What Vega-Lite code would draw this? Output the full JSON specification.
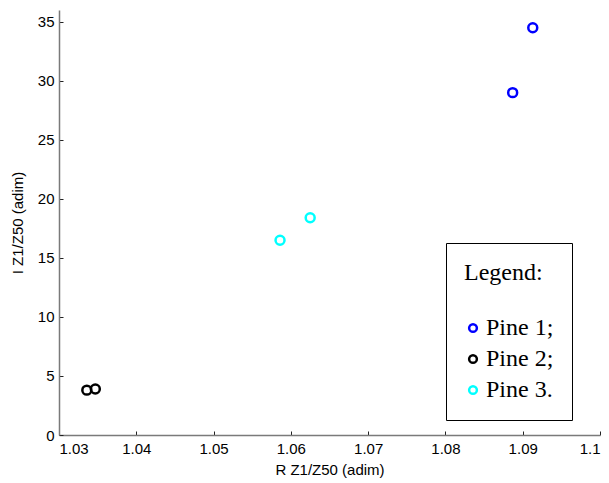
{
  "$schema": "https://vega.github.io/schema/vega-lite/v6.json",
  "width": 541,
  "height": 425,
  "autosize": {"type": "none"},
  "padding": {"left": 59, "top": 10, "right": 9, "bottom": 48},
  "background": "white",
  "config": {
    "view": {"stroke": null},
    "font": "Liberation Sans",
    "axis": {
      "grid": false,
      "domainColor": "#7a7a7a",
      "domainWidth": 1.5,
      "tickColor": "#222222",
      "tickSize": -4,
      "tickWidth": 1,
      "labelFont": "Liberation Sans",
      "labelFontSize": 15,
      "labelColor": "#000000",
      "titleFont": "Liberation Sans",
      "titleFontSize": 15,
      "titleFontWeight": "normal",
      "titleColor": "#000000"
    }
  },
  "data": {
    "values": [
      {"r": 1.0913, "i": 34.5, "series": "Pine 1;"},
      {"r": 1.0887, "i": 29.0, "series": "Pine 1;"},
      {"r": 1.0336, "i": 3.8, "series": "Pine 2;"},
      {"r": 1.0347, "i": 3.9, "series": "Pine 2;"},
      {"r": 1.0586, "i": 16.5, "series": "Pine 3."},
      {"r": 1.0625, "i": 18.4, "series": "Pine 3."}
    ]
  },
  "mark": {"type": "point", "shape": "circle", "filled": false, "size": 80, "strokeWidth": 2.5, "opacity": 1},
  "encoding": {
    "x": {
      "field": "r",
      "type": "quantitative",
      "scale": {"domain": [1.03, 1.1], "nice": false, "zero": false},
      "axis": {
        "title": "R Z1/Z50 (adim)",
        "values": [1.03, 1.04, 1.05, 1.06, 1.07, 1.08, 1.09, 1.1],
        "format": ".2~f",
        "labelPadding": 10,
        "titlePadding": 6
      }
    },
    "y": {
      "field": "i",
      "type": "quantitative",
      "scale": {"domain": [0, 36], "nice": false},
      "axis": {
        "title": "I Z1/Z50 (adim)",
        "values": [0, 5, 10, 15, 20, 25, 30, 35],
        "labelPadding": 9,
        "titlePadding": 12
      }
    },
    "color": {
      "field": "series",
      "type": "nominal",
      "scale": {"domain": ["Pine 1;", "Pine 2;", "Pine 3."], "range": ["#0000ff", "#000000", "#00ffff"]},
      "legend": {
        "title": "Legend:",
        "orient": "none",
        "legendX": 387,
        "legendY": 233,
        "direction": "vertical",
        "strokeColor": "#000000",
        "fillColor": "#ffffff",
        "padding": 18,
        "titleFont": "Liberation Serif",
        "titleFontSize": 24,
        "titleFontWeight": "normal",
        "titleColor": "#000000",
        "titlePadding": 31,
        "labelFont": "Liberation Serif",
        "labelFontSize": 24,
        "labelColor": "#000000",
        "labelOffset": 1,
        "symbolType": "circle",
        "symbolSize": 60,
        "symbolStrokeWidth": 2.5,
        "symbolFillColor": "transparent",
        "symbolOffset": -3,
        "rowPadding": 7
      }
    }
  }
}
